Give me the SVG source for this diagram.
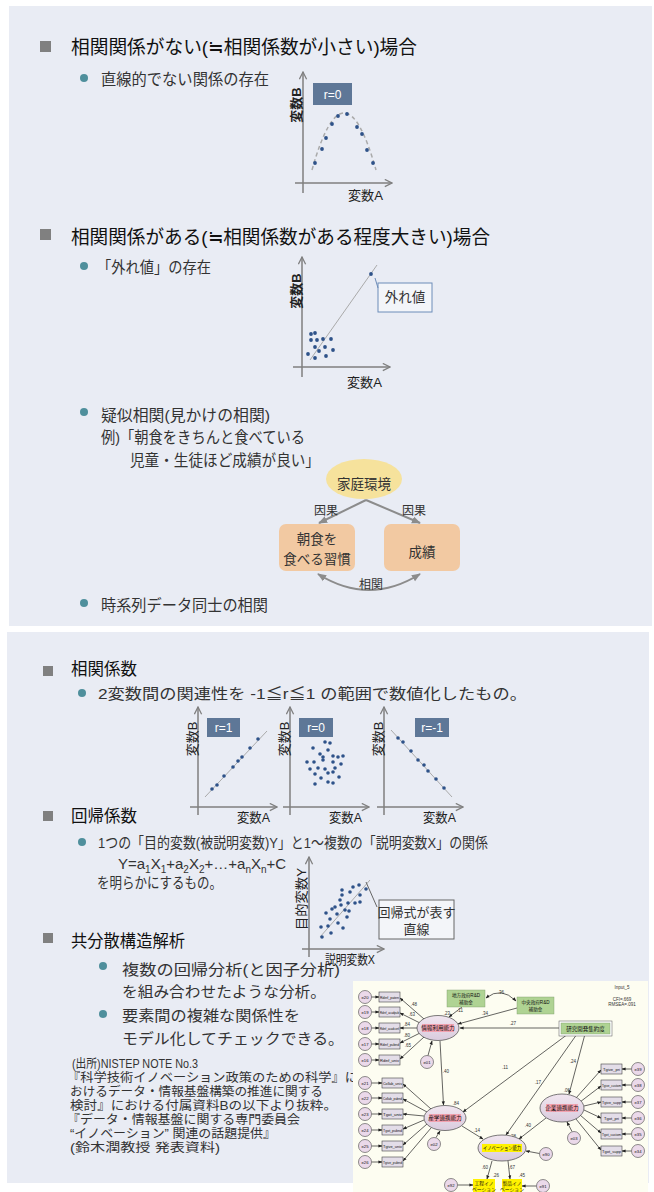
<svg xmlns="http://www.w3.org/2000/svg" width="654" height="1192" viewBox="0 0 654 1192">
<defs>
<style>
text{font-family:"Liberation Sans","Noto Sans CJK JP",sans-serif;}
.h{font-size:19px;fill:#111;}
.h2{font-size:17px;fill:#111;}
.b{font-size:15.5px;fill:#333;}
.b2{font-size:15px;fill:#333;}
.src{font-size:12.5px;fill:#333;}
.sq{fill:#808080;}
.cb{fill:#4F8F9C;}
.ax{stroke:#7f7f7f;stroke-width:1.5;fill:none;marker-end:url(#oa);}
.lbl{font-size:13px;fill:#222;}
.lblb{font-size:13px;fill:#222;font-weight:bold;}
.pt{fill:#2E5289;}
.rbox{fill:#5E7797;}
.rt{font-size:12px;fill:#fff;text-anchor:middle;}
.fit{stroke:#aaa;stroke-width:1;fill:none;}
.call{fill:#F3F5F9;stroke:#6D8CB8;stroke-width:1;}
.ca{stroke:#8C8C8C;stroke-width:2;fill:none;marker-end:url(#ga);}
.ct{font-size:13.5px;fill:#333;text-anchor:middle;}
.st{font-size:4.2px;fill:#111;text-anchor:middle;}
.sl{font-size:5.6px;fill:#111;text-anchor:middle;}
.sn{font-size:4.5px;fill:#333;text-anchor:middle;}
.obs{fill:#E3DDE8;stroke:#444;stroke-width:0.6;}
.err{fill:#EBD9EA;stroke:#444;stroke-width:0.6;}
.lat{fill:url(#lg);stroke:#444;stroke-width:0.7;}
.grn{fill:#AFD393;stroke:#7a9a6a;stroke-width:0.4;}
.ylw{fill:#FFF200;}
.pk{fill:#F2A2B0;}
.sa{stroke:#222;stroke-width:0.7;fill:none;marker-end:url(#sa);}
</style>
<marker id="oa" viewBox="0 0 10 10" refX="9" refY="5" markerWidth="9" markerHeight="9" orient="auto" markerUnits="userSpaceOnUse"><path d="M1,1 L9,5 L1,9" fill="none" stroke="#7f7f7f" stroke-width="1.4"/></marker>
<marker id="ga" viewBox="0 0 10 10" refX="9" refY="5" markerWidth="9" markerHeight="9" orient="auto-start-reverse" markerUnits="userSpaceOnUse"><path d="M0,1 L10,5 L0,9z" fill="#8C8C8C"/></marker>
<marker id="sa" viewBox="0 0 10 10" refX="9" refY="5" markerWidth="4" markerHeight="4" orient="auto-start-reverse" markerUnits="userSpaceOnUse"><path d="M0,1 L10,5 L0,9z" fill="#222"/></marker>
<linearGradient id="lg" x1="0" y1="0" x2="0" y2="1"><stop offset="0" stop-color="#F1E6F0"/><stop offset="1" stop-color="#D9CBDD"/></linearGradient>
</defs>
<rect width="654" height="1192" fill="#fff"/>

<!-- Panel 1 -->
<g id="panel1">
<rect x="9" y="6" width="643" height="620" fill="#E9ECF4"/>
<rect class="sq" x="40" y="41" width="11" height="11"/>
<text class="h" x="71" y="54" textLength="346" lengthAdjust="spacingAndGlyphs">相関関係がない(≒相関係数が小さい)場合</text>
<circle class="cb" cx="84" cy="78" r="4"/>
<text class="b" x="101" y="85" textLength="168" lengthAdjust="spacingAndGlyphs">直線的でない関係の存在</text>
<rect class="sq" x="40" y="229" width="11" height="11"/>
<text class="h" x="71" y="244" textLength="419" lengthAdjust="spacingAndGlyphs">相関関係がある(≒相関係数がある程度大きい)場合</text>
<circle class="cb" cx="84" cy="266" r="4"/>
<text class="b" x="97" y="273" textLength="114" lengthAdjust="spacingAndGlyphs">「外れ値」の存在</text>
<circle class="cb" cx="84" cy="412" r="4"/>
<text class="b" x="101" y="421" textLength="169" lengthAdjust="spacingAndGlyphs">疑似相関(見かけの相関)</text>
<text class="b" x="101" y="443" textLength="204" lengthAdjust="spacingAndGlyphs">例)「朝食をきちんと食べている</text>
<text class="b" x="130" y="466" textLength="190" lengthAdjust="spacingAndGlyphs">児童・生徒ほど成績が良い」</text>
<circle class="cb" cx="84" cy="603" r="4"/>
<text class="b" x="101" y="611" textLength="167" lengthAdjust="spacingAndGlyphs">時系列データ同士の相関</text>
</g>

<!-- Chart 1: nonlinear -->
<g id="chart1">
<line class="ax" x1="303" y1="193" x2="303" y2="72"/>
<line class="ax" x1="295" y1="183" x2="392" y2="183"/>
<text class="lblb" transform="translate(301,105) rotate(-90)" text-anchor="middle">変数B</text>
<text class="lbl" x="348" y="200" textLength="35" lengthAdjust="spacingAndGlyphs">変数A</text>
<rect class="rbox" x="313" y="83" width="39" height="22"/>
<text class="rt" x="332.5" y="98.5">r=0</text>
<path d="M312,170 Q344,56 376,170" stroke="#aaa" stroke-width="1.5" stroke-dasharray="4,3" fill="none"/>
<g class="pt">
<circle cx="315" cy="163" r="1.9"/><circle cx="322" cy="149" r="1.9"/><circle cx="326" cy="138" r="1.9"/><circle cx="332" cy="124" r="1.9"/><circle cx="338" cy="116" r="1.9"/><circle cx="347" cy="114" r="1.9"/><circle cx="357" cy="127" r="1.9"/><circle cx="362" cy="134" r="1.9"/><circle cx="367" cy="150" r="1.9"/><circle cx="373" cy="163" r="1.9"/>
</g>
</g>

<!-- Chart 2: outlier -->
<g id="chart2">
<line class="ax" x1="302" y1="377" x2="302" y2="257"/>
<line class="ax" x1="293" y1="367" x2="390" y2="367"/>
<text class="lblb" transform="translate(301,291) rotate(-90)" text-anchor="middle">変数B</text>
<text class="lbl" x="347" y="387" textLength="35" lengthAdjust="spacingAndGlyphs">変数A</text>
<line class="fit" x1="310" y1="360" x2="377" y2="265"/>
<g class="pt">
<circle cx="371" cy="274" r="1.9"/>
<circle cx="311" cy="334" r="1.9"/><circle cx="315" cy="333" r="1.9"/><circle cx="311" cy="340" r="1.9"/><circle cx="317" cy="340" r="1.9"/><circle cx="323" cy="339" r="1.9"/><circle cx="331" cy="339" r="1.9"/><circle cx="315" cy="347" r="1.9"/><circle cx="319" cy="351" r="1.9"/><circle cx="325" cy="347" r="1.9"/><circle cx="333" cy="350" r="1.9"/><circle cx="308" cy="354" r="1.9"/><circle cx="315" cy="358" r="1.9"/><circle cx="326" cy="356" r="1.9"/>
</g>
</g>
<g id="outlier-label">
<rect class="call" x="378" y="283" width="54" height="29"/>
<text class="ct" x="405" y="302">外れ値</text>
</g>

<!-- Causal diagram -->
<g id="node-katei">
<ellipse cx="364" cy="479" rx="38" ry="20" fill="#F6E29C"/>
<text class="ct" x="364" y="489">家庭環境</text>
</g>
<g id="node-choshoku">
<rect x="279" y="524" width="76" height="47" rx="7" fill="#F2C9A2"/>
<text class="ct" x="317" y="544">朝食を</text>
<text class="ct" x="317" y="564">食べる習慣</text>
</g>
<g id="node-seiseki">
<rect x="384" y="524" width="76" height="47" rx="7" fill="#F2C9A2"/>
<text class="ct" x="422" y="557">成績</text>
</g>

<!-- Panel 2 -->
<g id="panel2">
<rect x="7" y="632" width="642" height="551" fill="#E9ECF4"/>
<rect class="sq" x="43" y="666" width="10" height="10"/>
<text class="h2" x="71" y="675" textLength="66" lengthAdjust="spacingAndGlyphs">相関係数</text>
<circle class="cb" cx="82" cy="693" r="4"/>
<text class="b2" x="98" y="699" textLength="429" lengthAdjust="spacingAndGlyphs">2変数間の関連性を -1≦r≦1 の範囲で数値化したもの。</text>
<rect class="sq" x="43" y="811" width="10" height="10"/>
<text class="h2" x="71" y="822" textLength="66" lengthAdjust="spacingAndGlyphs">回帰係数</text>
<circle class="cb" cx="82" cy="842" r="4"/>
<text class="b2" x="98" y="848" textLength="390" lengthAdjust="spacingAndGlyphs">1つの「目的変数(被説明変数)Y」と1～複数の「説明変数X」の関係</text>
<text class="b2" x="118" y="869">Y=a<tspan dy="4" font-size="10">1</tspan><tspan dy="-4">X</tspan><tspan dy="4" font-size="10">1</tspan><tspan dy="-4">+a</tspan><tspan dy="4" font-size="10">2</tspan><tspan dy="-4">X</tspan><tspan dy="4" font-size="10">2</tspan><tspan dy="-4">+…+a</tspan><tspan dy="4" font-size="10">n</tspan><tspan dy="-4">X</tspan><tspan dy="4" font-size="10">n</tspan><tspan dy="-4">+C</tspan></text>
<text class="b2" x="97" y="888" textLength="125" lengthAdjust="spacingAndGlyphs">を明らかにするもの。</text>
<rect class="sq" x="43" y="933" width="10" height="10"/>
<text class="h2" x="71" y="947" textLength="114" lengthAdjust="spacingAndGlyphs">共分散構造解析</text>
<circle class="cb" cx="103" cy="966" r="4"/>
<text class="b2" x="122" y="975" textLength="218" lengthAdjust="spacingAndGlyphs">複数の回帰分析(と因子分析)</text>
<text class="b2" x="122" y="997" textLength="204" lengthAdjust="spacingAndGlyphs">を組み合わせたような分析。</text>
<circle class="cb" cx="103" cy="1014" r="4"/>
<text class="b2" x="122" y="1021" textLength="178" lengthAdjust="spacingAndGlyphs">要素間の複雑な関係性を</text>
<text class="b2" x="122" y="1044" textLength="222" lengthAdjust="spacingAndGlyphs">モデル化してチェックできる。</text>
<text class="src" x="72" y="1068" textLength="126" lengthAdjust="spacingAndGlyphs">(出所)NISTEP NOTE No.3</text>
<text class="src" x="67" y="1082" textLength="291" lengthAdjust="spacingAndGlyphs">『科学技術イノベーション政策のための科学』に</text>
<text class="src" x="70" y="1096" textLength="253" lengthAdjust="spacingAndGlyphs">おけるデータ・情報基盤構築の推進に関する</text>
<text class="src" x="70" y="1110" textLength="267" lengthAdjust="spacingAndGlyphs">検討』における付属資料Bの以下より抜粋。</text>
<text class="src" x="67" y="1124" textLength="233" lengthAdjust="spacingAndGlyphs">『データ・情報基盤に関する専門委員会</text>
<text class="src" x="70" y="1138" textLength="206" lengthAdjust="spacingAndGlyphs">“イノベーション” 関連の話題提供』</text>
<text class="src" x="70" y="1152" textLength="150" lengthAdjust="spacingAndGlyphs">(鈴木潤教授 発表資料)</text>
</g>

<!-- r charts -->
<g id="chartA">
<line class="ax" x1="198" y1="815" x2="198" y2="707"/>
<line class="ax" x1="190" y1="807" x2="277" y2="807"/>
<text class="lbl" transform="translate(197,739) rotate(-90)" text-anchor="middle">変数B</text>
<text class="lbl" x="237" y="822" textLength="33" lengthAdjust="spacingAndGlyphs">変数A</text>
<rect class="rbox" x="207" y="718" width="33" height="19"/>
<text class="rt" x="223.5" y="732">r=1</text>
<line class="fit" x1="205" y1="797" x2="267" y2="731"/>
<g class="pt"><circle cx="212" cy="789" r="1.8"/><circle cx="217" cy="785" r="1.8"/><circle cx="224" cy="776" r="1.8"/><circle cx="233" cy="767" r="1.8"/><circle cx="238" cy="761" r="1.8"/><circle cx="242" cy="757" r="1.8"/><circle cx="250" cy="748" r="1.8"/><circle cx="258" cy="739" r="1.8"/></g>
</g>
<g id="chartB">
<line class="ax" x1="290" y1="815" x2="290" y2="707"/>
<line class="ax" x1="283" y1="807" x2="369" y2="807"/>
<text class="lbl" transform="translate(289,739) rotate(-90)" text-anchor="middle">変数B</text>
<text class="lbl" x="329" y="822" textLength="33" lengthAdjust="spacingAndGlyphs">変数A</text>
<rect class="rbox" x="299" y="718" width="34" height="19"/>
<text class="rt" x="316" y="732">r=0</text>
<g class="pt"><circle cx="313" cy="748" r="1.8"/><circle cx="325" cy="742" r="1.8"/><circle cx="330" cy="743" r="1.8"/><circle cx="320" cy="754" r="1.8"/><circle cx="328" cy="750" r="1.8"/><circle cx="333" cy="756" r="1.8"/><circle cx="338" cy="757" r="1.8"/><circle cx="343" cy="756" r="1.8"/><circle cx="307" cy="762" r="1.8"/><circle cx="314" cy="762" r="1.8"/><circle cx="323" cy="760" r="1.8"/><circle cx="333" cy="762" r="1.8"/><circle cx="341" cy="764" r="1.8"/><circle cx="310" cy="769" r="1.8"/><circle cx="318" cy="768" r="1.8"/><circle cx="325" cy="769" r="1.8"/><circle cx="335" cy="768" r="1.8"/><circle cx="315" cy="774" r="1.8"/><circle cx="328" cy="773" r="1.8"/><circle cx="333" cy="772" r="1.8"/><circle cx="339" cy="777" r="1.8"/><circle cx="321" cy="778" r="1.8"/><circle cx="328" cy="782" r="1.8"/><circle cx="315" cy="784" r="1.8"/><circle cx="333" cy="783" r="1.8"/><circle cx="323" cy="757" r="1.8"/></g>
</g>
<g id="chartC">
<line class="ax" x1="384" y1="815" x2="384" y2="707"/>
<line class="ax" x1="377" y1="807" x2="463" y2="807"/>
<text class="lbl" transform="translate(383,739) rotate(-90)" text-anchor="middle">変数B</text>
<text class="lbl" x="423" y="822" textLength="33" lengthAdjust="spacingAndGlyphs">変数A</text>
<rect class="rbox" x="415" y="718" width="34" height="19"/>
<text class="rt" x="432" y="732">r=-1</text>
<line class="fit" x1="391" y1="730" x2="452" y2="797"/>
<g class="pt"><circle cx="398" cy="738" r="1.8"/><circle cx="403" cy="742" r="1.8"/><circle cx="411" cy="751" r="1.8"/><circle cx="418" cy="760" r="1.8"/><circle cx="424" cy="765" r="1.8"/><circle cx="428" cy="771" r="1.8"/><circle cx="436" cy="779" r="1.8"/><circle cx="444" cy="788" r="1.8"/></g>
</g>

<!-- Regression chart -->
<g id="chartReg">
<line class="ax" x1="309" y1="957" x2="309" y2="857"/>
<line class="ax" x1="302" y1="949" x2="384" y2="949"/>
<text class="lbl" transform="translate(306,899) rotate(-90)" text-anchor="middle" textLength="62" lengthAdjust="spacingAndGlyphs">目的変数Y</text>
<text class="lbl" x="325" y="964" textLength="50" lengthAdjust="spacingAndGlyphs">説明変数X</text>
<line class="fit" x1="320" y1="937" x2="370" y2="880"/>
<g class="pt"><circle cx="322" cy="937" r="1.8"/><circle cx="321" cy="927" r="1.8"/><circle cx="328" cy="926" r="1.8"/><circle cx="331" cy="933" r="1.8"/><circle cx="326" cy="913" r="1.8"/><circle cx="330" cy="919" r="1.8"/><circle cx="332" cy="909" r="1.8"/><circle cx="337" cy="914" r="1.8"/><circle cx="338" cy="923" r="1.8"/><circle cx="343" cy="928" r="1.8"/><circle cx="341" cy="905" r="1.8"/><circle cx="340" cy="900" r="1.8"/><circle cx="342" cy="890" r="1.8"/><circle cx="342" cy="895" r="1.8"/><circle cx="345" cy="910" r="1.8"/><circle cx="347" cy="917" r="1.8"/><circle cx="349" cy="911" r="1.8"/><circle cx="348" cy="903" r="1.8"/><circle cx="350" cy="892" r="1.8"/><circle cx="353" cy="887" r="1.8"/><circle cx="355" cy="903" r="1.8"/><circle cx="359" cy="885" r="1.8"/><circle cx="360" cy="895" r="1.8"/><circle cx="360" cy="902" r="1.8"/><circle cx="366" cy="889" r="1.8"/><circle cx="335" cy="907" r="1.8"/></g>
</g>
<g id="reg-label">
<rect class="call" x="379" y="900" width="75" height="39" style="stroke:#666"/>
<text class="ct" x="416.5" y="917" style="font-size:13px">回帰式が表す</text>
<text class="ct" x="416.5" y="934" style="font-size:13px">直線</text>
</g>

<!-- connectors (panel 1 causal + callouts) -->
<g id="connectors">
<line class="ca" x1="366" y1="500" x2="319" y2="523"/>
<line class="ca" x1="366" y1="500" x2="420" y2="523"/>
<path class="ca" d="M318,574 Q369,606 420,574" style="marker-start:url(#ga)"/>
<text class="ct" x="326" y="515" style="font-size:12px">因果</text>
<text class="ct" x="414" y="515" style="font-size:12px">因果</text>
<text class="ct" x="371" y="589" style="font-size:12px">相関</text>
<line x1="375" y1="278" x2="378" y2="288" stroke="#6D8CB8" stroke-width="1"/>
<line x1="366" y1="882" x2="377" y2="907" stroke="#666" stroke-width="1"/>
</g>

<!-- SEM path diagram -->
<g id="sem">
<rect x="353" y="981" width="295" height="211" fill="#FDFDF1"/>
<text class="sn" x="622" y="989">Input_5</text>
<text class="sn" x="622" y="1001">CFI=.669</text>
<text class="sn" x="622" y="1006">RMSEA=.091</text>
</g>
<g id="sem-connectors">
<path class="sa" d="M486,998 Q501,986 516,1001" style="marker-start:url(#sa)"/>
<line class="sa" x1="462" y1="1007" x2="449" y2="1017"/>
<line class="sa" x1="517" y1="1008" x2="458" y2="1024"/>
<line class="sa" x1="561" y1="1028" x2="460" y2="1028"/>
<line class="sa" x1="568" y1="1034" x2="463" y2="1112"/>
<line class="sa" x1="577" y1="1034" x2="506" y2="1135"/>
<line class="sa" x1="585" y1="1034" x2="569" y2="1094"/>
<line class="sa" x1="440" y1="1041" x2="443.5" y2="1105"/>
<line class="sa" x1="462" y1="1126" x2="483" y2="1139"/>
<line class="sa" x1="546" y1="1118" x2="519" y2="1139"/>
<line class="sa" x1="492" y1="1161" x2="487" y2="1179"/>
<line class="sa" x1="508" y1="1161" x2="510" y2="1179"/>
<line class="sa" x1="428" y1="1055.5" x2="432" y2="1041"/>
<line class="sa" x1="436" y1="1137.5" x2="440" y2="1131"/>
<line class="sa" x1="572" y1="1131.5" x2="567" y2="1122"/>
<line class="sa" x1="539.5" y1="1153.5" x2="526" y2="1151"/>
<line class="sa" x1="457.5" y1="1185" x2="473" y2="1185"/>
<line class="sa" x1="536.5" y1="1186" x2="522" y2="1186"/>
<!-- loadings info -->
<line class="sa" x1="424" y1="1019" x2="400" y2="998"/>
<line class="sa" x1="420" y1="1023" x2="400" y2="1013"/>
<line class="sa" x1="417" y1="1028" x2="400" y2="1028"/>
<line class="sa" x1="420" y1="1033" x2="400" y2="1043"/>
<line class="sa" x1="424" y1="1037" x2="400" y2="1059"/>
<line class="sa" x1="371.5" y1="997" x2="379" y2="997"/>
<line class="sa" x1="371.5" y1="1012" x2="379" y2="1012"/>
<line class="sa" x1="371.5" y1="1028" x2="379" y2="1028"/>
<line class="sa" x1="371.5" y1="1044" x2="379" y2="1044"/>
<line class="sa" x1="371.5" y1="1060" x2="379" y2="1060"/>
<!-- loadings sangaku -->
<line class="sa" x1="431" y1="1109" x2="403" y2="1084"/>
<line class="sa" x1="427" y1="1112" x2="403" y2="1099"/>
<line class="sa" x1="424" y1="1116" x2="403" y2="1114"/>
<line class="sa" x1="424" y1="1120" x2="403" y2="1129"/>
<line class="sa" x1="427" y1="1124" x2="403" y2="1145"/>
<line class="sa" x1="431" y1="1128" x2="403" y2="1161"/>
<line class="sa" x1="371.5" y1="1083" x2="382" y2="1083"/>
<line class="sa" x1="371.5" y1="1098" x2="382" y2="1098"/>
<line class="sa" x1="371.5" y1="1114" x2="382" y2="1114"/>
<line class="sa" x1="371.5" y1="1130" x2="382" y2="1130"/>
<line class="sa" x1="371.5" y1="1146" x2="382" y2="1146"/>
<line class="sa" x1="371.5" y1="1162" x2="382" y2="1162"/>
<!-- loadings kigyo -->
<line class="sa" x1="576" y1="1098" x2="601" y2="1070"/>
<line class="sa" x1="580" y1="1102" x2="601" y2="1086"/>
<line class="sa" x1="584" y1="1106" x2="601" y2="1102"/>
<line class="sa" x1="584" y1="1110" x2="601" y2="1118"/>
<line class="sa" x1="580" y1="1115" x2="601" y2="1133"/>
<line class="sa" x1="576" y1="1119" x2="601" y2="1150"/>
<line class="sa" x1="631.5" y1="1069" x2="622" y2="1069"/>
<line class="sa" x1="631.5" y1="1085" x2="622" y2="1085"/>
<line class="sa" x1="631.5" y1="1102" x2="622" y2="1102"/>
<line class="sa" x1="631.5" y1="1118" x2="622" y2="1118"/>
<line class="sa" x1="631.5" y1="1134" x2="622" y2="1134"/>
<line class="sa" x1="631.5" y1="1151" x2="622" y2="1151"/>
<g class="sn">
<text x="501" y="994">.36</text><text x="460" y="1012">.11</text><text x="485" y="1015">.34</text><text x="513" y="1025">.27</text>
<text x="505" y="1069">.11</text><text x="538" y="1084">.17</text><text x="573" y="1063">.24</text><text x="446" y="1073">.40</text>
<text x="477" y="1132">.14</text><text x="528" y="1127">.40</text><text x="485" y="1169">.60</text><text x="512" y="1169">.67</text>
<text x="447" y="1015">.23</text><text x="456" y="1105">.84</text><text x="567" y="1092">.06</text><text x="513" y="1138">.28</text>
<text x="496" y="1177">.26</text><text x="522" y="1177">.45</text>
<text x="414" y="1006">.48</text><text x="412" y="1016">.63</text><text x="407" y="1026">.84</text><text x="407" y="1037">.80</text><text x="408" y="1047">.65</text>
</g>
</g>

<g id="sem-chiho"><rect class="grn" x="447" y="990" width="38" height="17"/><text class="st" x="466" y="997" style="font-size:4.6px">地方政府R&amp;D</text><text class="st" x="466" y="1004" style="font-size:4.6px">補助金</text></g>
<g id="sem-chuo"><rect class="grn" x="517" y="997" width="37" height="17"/><text class="st" x="535.5" y="1004" style="font-size:4.6px">中央政府R&amp;D</text><text class="st" x="535.5" y="1011" style="font-size:4.6px">補助金</text></g>
<g id="sem-kenkyu"><rect x="559" y="1021" width="53" height="15" fill="#fff" stroke="#555" stroke-width="0.5"/><rect class="grn" x="561" y="1023" width="49" height="11"/><text class="st" x="585.5" y="1031" style="font-size:5.5px">研究開発集約度</text></g>
<g id="sem-joho"><ellipse class="lat" cx="438" cy="1028" rx="21" ry="12.5"/><rect class="pk" x="422" y="1024" width="32" height="8"/><text class="sl" x="438" y="1030">情報利用能力</text></g>
<g id="sem-sangaku"><ellipse class="lat" cx="445" cy="1118" rx="21" ry="12.5"/><rect class="pk" x="429" y="1114" width="32" height="8"/><text class="sl" x="445" y="1120">産学連携能力</text></g>
<g id="sem-kigyo"><ellipse class="lat" cx="562" cy="1108" rx="22" ry="14"/><rect class="pk" x="546" y="1104" width="32" height="8"/><text class="sl" x="562" y="1110">企業連携能力</text></g>
<g id="sem-inov"><ellipse class="lat" cx="502" cy="1148" rx="24" ry="13"/><rect class="ylw" x="482" y="1144" width="40" height="8"/><text class="sl" x="502" y="1150" textLength="38" lengthAdjust="spacingAndGlyphs">イノベーション能力</text></g>
<g id="sem-kotei"><rect class="ylw" x="473" y="1179" width="22" height="13"/><text class="st" x="484" y="1185" style="font-size:4.8px">工程イノ</text><text class="st" x="484" y="1191" style="font-size:4.8px">ベーション</text></g>
<g id="sem-seihin"><rect class="ylw" x="502" y="1179" width="20" height="13"/><text class="st" x="512" y="1185" style="font-size:4.8px">製品イノ</text><text class="st" x="512" y="1191" style="font-size:4.8px">ベーション</text></g>
<g id="sem-obs-left1">
<rect class="obs" x="379" y="992" width="21" height="10"/><text class="st" x="389.5" y="998.5" textLength="19" lengthAdjust="spacingAndGlyphs">Rdinf_paten</text>
<rect class="obs" x="379" y="1007" width="21" height="10"/><text class="st" x="389.5" y="1013.5" textLength="19" lengthAdjust="spacingAndGlyphs">Rdinf_acadpub</text>
<rect class="obs" x="379" y="1023" width="21" height="10"/><text class="st" x="389.5" y="1029.5" textLength="19" lengthAdjust="spacingAndGlyphs">Rdinf_acadconf</text>
<rect class="obs" x="379" y="1039" width="21" height="10"/><text class="st" x="389.5" y="1045.5" textLength="19" lengthAdjust="spacingAndGlyphs">Rdinf_pubnd</text>
<rect class="obs" x="379" y="1055" width="21" height="10"/><text class="st" x="389.5" y="1061.5" textLength="19" lengthAdjust="spacingAndGlyphs">Rdinf_univ</text>
</g>
<g id="sem-obs-left2">
<rect class="obs" x="382" y="1078" width="21" height="10"/><text class="st" x="392.5" y="1084.5" textLength="19" lengthAdjust="spacingAndGlyphs">Collab_univ</text>
<rect class="obs" x="382" y="1093" width="21" height="10"/><text class="st" x="392.5" y="1099.5" textLength="19" lengthAdjust="spacingAndGlyphs">Collab_pubnd</text>
<rect class="obs" x="382" y="1109" width="21" height="10"/><text class="st" x="392.5" y="1115.5" textLength="19" lengthAdjust="spacingAndGlyphs">Tgot_univ</text>
<rect class="obs" x="382" y="1125" width="21" height="10"/><text class="st" x="392.5" y="1131.5" textLength="19" lengthAdjust="spacingAndGlyphs">Tgot_pubnd</text>
<rect class="obs" x="382" y="1141" width="21" height="10"/><text class="st" x="392.5" y="1147.5" textLength="19" lengthAdjust="spacingAndGlyphs">Tgive_univ</text>
<rect class="obs" x="382" y="1157" width="21" height="10"/><text class="st" x="392.5" y="1163.5" textLength="19" lengthAdjust="spacingAndGlyphs">Tgive_pubnd</text>
</g>
<g id="sem-obs-right">
<rect class="obs" x="601" y="1064" width="21" height="10"/><text class="st" x="611.5" y="1070.5" textLength="17" lengthAdjust="spacingAndGlyphs">Tgive_pri</text>
<rect class="obs" x="601" y="1080" width="21" height="10"/><text class="st" x="611.5" y="1086.5" textLength="19" lengthAdjust="spacingAndGlyphs">Tgive_custom</text>
<rect class="obs" x="601" y="1097" width="21" height="10"/><text class="st" x="611.5" y="1103.5" textLength="19" lengthAdjust="spacingAndGlyphs">Tgive_supp</text>
<rect class="obs" x="601" y="1113" width="21" height="10"/><text class="st" x="611.5" y="1119.5" textLength="15" lengthAdjust="spacingAndGlyphs">Tgot_pri</text>
<rect class="obs" x="601" y="1129" width="21" height="10"/><text class="st" x="611.5" y="1135.5" textLength="19" lengthAdjust="spacingAndGlyphs">Tgot_custom</text>
<rect class="obs" x="601" y="1146" width="21" height="10"/><text class="st" x="611.5" y="1152.5" textLength="19" lengthAdjust="spacingAndGlyphs">Tgot_supp</text>
</g>
<g id="sem-errors">
<circle class="err" cx="365" cy="997" r="6.5"/><text class="st" x="365" y="998.5">e20</text>
<circle class="err" cx="365" cy="1012" r="6.5"/><text class="st" x="365" y="1013.5">e19</text>
<circle class="err" cx="365" cy="1028" r="6.5"/><text class="st" x="365" y="1029.5">e18</text>
<circle class="err" cx="365" cy="1044" r="6.5"/><text class="st" x="365" y="1045.5">e17</text>
<circle class="err" cx="365" cy="1060" r="6.5"/><text class="st" x="365" y="1061.5">e16</text>
<circle class="err" cx="365" cy="1083" r="6.5"/><text class="st" x="365" y="1084.5">e21</text>
<circle class="err" cx="365" cy="1098" r="6.5"/><text class="st" x="365" y="1099.5">e22</text>
<circle class="err" cx="365" cy="1114" r="6.5"/><text class="st" x="365" y="1115.5">e23</text>
<circle class="err" cx="365" cy="1130" r="6.5"/><text class="st" x="365" y="1131.5">e24</text>
<circle class="err" cx="365" cy="1146" r="6.5"/><text class="st" x="365" y="1147.5">e25</text>
<circle class="err" cx="365" cy="1162" r="6.5"/><text class="st" x="365" y="1163.5">e26</text>
<circle class="err" cx="638" cy="1069" r="6.5"/><text class="st" x="638" y="1070.5">e39</text>
<circle class="err" cx="638" cy="1085" r="6.5"/><text class="st" x="638" y="1086.5">e38</text>
<circle class="err" cx="638" cy="1102" r="6.5"/><text class="st" x="638" y="1103.5">e37</text>
<circle class="err" cx="638" cy="1118" r="6.5"/><text class="st" x="638" y="1119.5">e36</text>
<circle class="err" cx="638" cy="1134" r="6.5"/><text class="st" x="638" y="1135.5">e35</text>
<circle class="err" cx="638" cy="1151" r="6.5"/><text class="st" x="638" y="1152.5">e34</text>
<circle class="err" cx="427" cy="1062" r="6.5"/><text class="st" x="427" y="1063.5">e01</text>
<circle class="err" cx="434" cy="1144" r="6.5"/><text class="st" x="434" y="1145.5">e02</text>
<circle class="err" cx="574" cy="1138" r="6.5"/><text class="st" x="574" y="1139.5">e03</text>
<circle class="err" cx="546" cy="1154" r="6.5"/><text class="st" x="546" y="1155.5">e90</text>
<circle class="err" cx="451" cy="1185" r="6.5"/><text class="st" x="451" y="1186.5">e92</text>
<circle class="err" cx="543" cy="1186" r="6.5"/><text class="st" x="543" y="1187.5">e91</text>
</g>
</svg>
